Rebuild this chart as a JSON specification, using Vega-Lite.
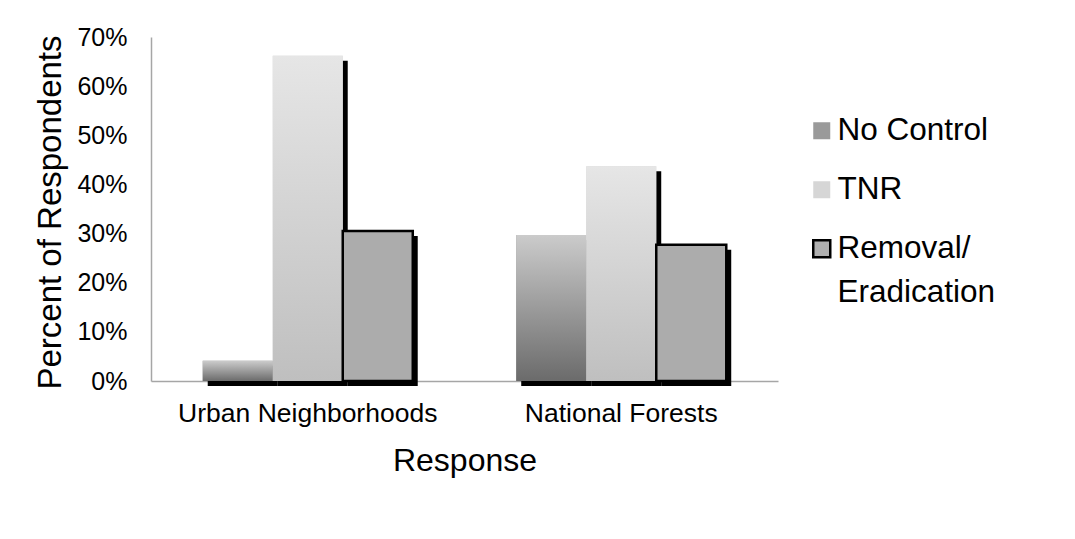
{
  "$schema": "https://vega.github.io/schema/vega-lite/v6.json",
  "width": 627,
  "height": 344,
  "autosize": {"type": "none"},
  "padding": {"left": 151, "top": 37, "right": 297, "bottom": 158},
  "background": "white",
  "config": {"font": "Liberation Sans", "view": {"stroke": null}},
  "data": {
    "values": [
      {"location": "Urban Neighborhoods", "series": "No Control", "pct": 0.041},
      {"location": "Urban Neighborhoods", "series": "TNR", "pct": 0.662},
      {"location": "Urban Neighborhoods", "series": "Removal/ Eradication", "pct": 0.305},
      {"location": "National Forests", "series": "No Control", "pct": 0.297},
      {"location": "National Forests", "series": "TNR", "pct": 0.437},
      {"location": "National Forests", "series": "Removal/ Eradication", "pct": 0.277}
    ]
  },
  "encoding": {
    "x": {
      "field": "location",
      "type": "nominal",
      "sort": ["Urban Neighborhoods", "National Forests"],
      "scale": {"paddingInner": 0.33, "paddingOuter": 0.165},
      "axis": {
        "title": "Response",
        "labelAngle": 0,
        "labelFontSize": 26.5,
        "labelColor": "black",
        "labelPadding": 19,
        "labelLimit": 0,
        "ticks": false,
        "domainColor": "#a6a6a6",
        "domainWidth": 1.5,
        "titleFontSize": 32,
        "titleFontWeight": "normal",
        "titleColor": "black",
        "titleY": 79,
        "titleBaseline": "middle"
      }
    },
    "y": {
      "field": "pct",
      "type": "quantitative",
      "scale": {"domain": [0, 0.7], "nice": false},
      "axis": {
        "title": "Percent of Respondents",
        "values": [0, 0.1, 0.2, 0.3, 0.4, 0.5, 0.6, 0.7],
        "format": ".0%",
        "labelFontSize": 25,
        "labelColor": "black",
        "labelPadding": 24,
        "ticks": false,
        "grid": false,
        "domainColor": "#a6a6a6",
        "domainWidth": 1.5,
        "titleFontSize": 33,
        "titleFontWeight": "normal",
        "titleColor": "black",
        "titleAngle": -90,
        "titleX": -101,
        "titleY": 175,
        "titleAlign": "center",
        "titleBaseline": "middle"
      }
    }
  },
  "resolve": {"scale": {"xOffset": "independent"}},
  "layer": [
    {
      "mark": {"type": "bar", "color": "black", "yOffset": 5, "y2Offset": 5},
      "encoding": {
        "xOffset": {
          "field": "series",
          "type": "nominal",
          "sort": ["No Control", "TNR", "Removal/ Eradication"],
          "scale": {"range": [5, 215], "paddingInner": 0, "paddingOuter": 0}
        }
      }
    },
    {
      "layer": [
        {
          "mark": {"type": "bar"},
          "encoding": {
            "color": {
              "field": "series",
              "type": "nominal",
              "sort": ["No Control", "TNR", "Removal/ Eradication"],
              "scale": {"domain": ["No Control", "TNR", "Removal/ Eradication"], "range": ["#9a9a9a", "#d6d6d6", "#b0b0b0"]},
              "legend": {
                "title": null,
                "orient": "none",
                "legendX": 655,
                "legendY": 78,
                "padding": 0,
                "symbolType": "square",
                "symbolSize": 289,
                "symbolStrokeWidth": 0,
                "labelFontSize": 31.5,
                "labelColor": "black",
                "labelOffset": 0,
                "labelLimit": 400,
                "rowPadding": 26,
                "labelExpr": "datum.label === 'Removal/ Eradication' ? ['Removal/', 'Eradication'] : datum.label",
                "encode": {
                  "symbols": {
                    "update": {
                      "fill": [
                        {"test": "datum.value === 'No Control'", "value": {"gradient": "linear", "x1": 0, "y1": 0, "x2": 0, "y2": 1, "stops": [{"offset": 0, "color": "#c8c8c8"}, {"offset": 1, "color": "#6e6e6e"}]}},
                        {"test": "datum.value === 'TNR'", "value": {"gradient": "linear", "x1": 0, "y1": 0, "x2": 0, "y2": 1, "stops": [{"offset": 0, "color": "#e6e6e6"}, {"offset": 1, "color": "#c0c0c0"}]}},
                        {"value": "#b8b8b8"}
                      ],
                      "stroke": [
                        {"test": "datum.value === 'Removal/ Eradication'", "value": "black"},
                        {"value": "transparent"}
                      ],
                      "strokeWidth": {"value": 2.5}
                    }
                  },
                  "labels": {
                    "update": {
                      "lineHeight": {"value": 44}
                    }
                  }
                }
              }
            }
          }
        },
        {
          "mark": {"type": "bar"},
          "encoding": {
            "fill": {
              "condition": [
                {"test": "datum.series === 'No Control'", "value": {"gradient": "linear", "x1": 0, "y1": 0, "x2": 0, "y2": 1, "stops": [{"offset": 0, "color": "#cbcbcb"}, {"offset": 1, "color": "#6b6b6b"}]}},
                {"test": "datum.series === 'TNR'", "value": {"gradient": "linear", "x1": 0, "y1": 0, "x2": 0, "y2": 1, "stops": [{"offset": 0, "color": "#e6e6e6"}, {"offset": 1, "color": "#bfbfbf"}]}}
              ],
              "value": "#acacac"
            },
            "stroke": {
              "condition": {"test": "datum.series === 'Removal/ Eradication'", "value": "black"},
              "value": "transparent"
            },
            "strokeWidth": {"value": 2.5}
          }
        }
      ],
      "encoding": {
        "xOffset": {
          "field": "series",
          "type": "nominal",
          "sort": ["No Control", "TNR", "Removal/ Eradication"],
          "scale": {"paddingInner": 0, "paddingOuter": 0}
        }
      }
    }
  ]
}
